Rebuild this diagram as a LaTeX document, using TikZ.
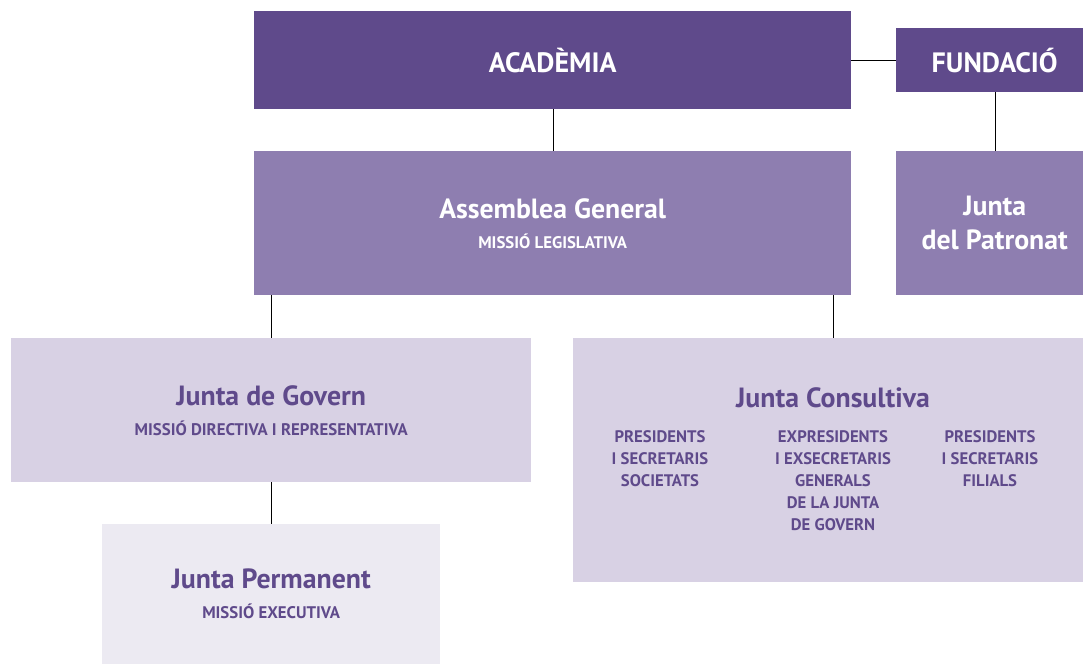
\documentclass[tikz,border=0pt]{standalone}
\usepackage{fontspec}
\setmainfont{PT Sans}
\usetikzlibrary{positioning}
\definecolor{academia}{HTML}{5F4A8B}
\definecolor{assemblea}{HTML}{8E7EB0}
\definecolor{juntaclara}{HTML}{D8D1E4}
\definecolor{permanent}{HTML}{ECEAF2}
\newcommand{\missio}[1]{{\fontsize{16.8}{19}\selectfont #1}}

\begin{document}
\begin{tikzpicture}[x=1pt,y=-1pt,
 darkbox/.style={rectangle, fill=academia, text=white, inner sep=0pt, anchor=north west, font=\bfseries\fontsize{28}{32}\selectfont},
 midbox/.style={rectangle, fill=assemblea, text=white, inner sep=0pt, anchor=north west, align=center, font=\bfseries\fontsize{27.8}{30}\selectfont},
 lightbox/.style={rectangle, fill=juntaclara, text=academia, inner sep=0pt, anchor=north west, align=center, font=\bfseries\fontsize{27.8}{30}\selectfont},
 palebox/.style={lightbox, fill=permanent},
 colnode/.style={inner sep=0pt, anchor=north, align=center, text=academia, font=\bfseries\fontsize{16.7}{22}\selectfont}
 ]
 \useasboundingbox (0,0) rectangle (1083,664);

 %Nodes
 \node[darkbox, minimum width=597, minimum height=98] (academia_node) at (254,11) {ACADÈMIA};
 \node[darkbox, minimum width=197, minimum height=64] (fundacio_node) at (896,28) {FUNDACIÓ};
 \node[midbox, minimum width=597, minimum height=144] (assemblea_node) at (254,151) {Assemblea General\\\missio{MISSIÓ LEGISLATIVA}};
 \node[midbox, minimum width=197, minimum height=144] (patronat_node) at (896,151) {Junta\\[4pt]del Patronat};
 \node[lightbox, minimum width=520, minimum height=144] (govern_node) at (11,338) {Junta de Govern\\\missio{MISSIÓ DIRECTIVA I REPRESENTATIVA}};
 \node[lightbox, minimum width=520, minimum height=244] (consultiva_node) at (573,338) {};
 \node[palebox, minimum width=338, minimum height=140] (permanent_node) at (102,524) {Junta Permanent\\\missio{MISSIÓ EXECUTIVA}};

 \node[lightbox, fill=none, anchor=base] (consultiva_title) at (833,407) {Junta Consultiva};
 \node[colnode] (societats_node) at (660,430) {PRESIDENTS\\I SECRETARIS\\SOCIETATS};
 \node[colnode] (expresidents_node) at (833,430) {EXPRESIDENTS\\I EXSECRETARIS\\GENERALS\\DE LA JUNTA\\DE GOVERN};
 \node[colnode] (filials_node) at (990,430) {PRESIDENTS\\I SECRETARIS\\FILIALS};

 %Lines
 \draw (academia_node.east |- fundacio_node.west) -- (fundacio_node.west);
 \draw (academia_node.south) -- (assemblea_node.north);
 \draw (fundacio_node.south) -- (patronat_node.north);
 \draw (govern_node.north |- assemblea_node.south) -- (govern_node.north);
 \draw (assemblea_node.south -| consultiva_node.north) -- (consultiva_node.north);
 \draw (govern_node.south) -- (permanent_node.north);
\end{tikzpicture}
\end{document}
